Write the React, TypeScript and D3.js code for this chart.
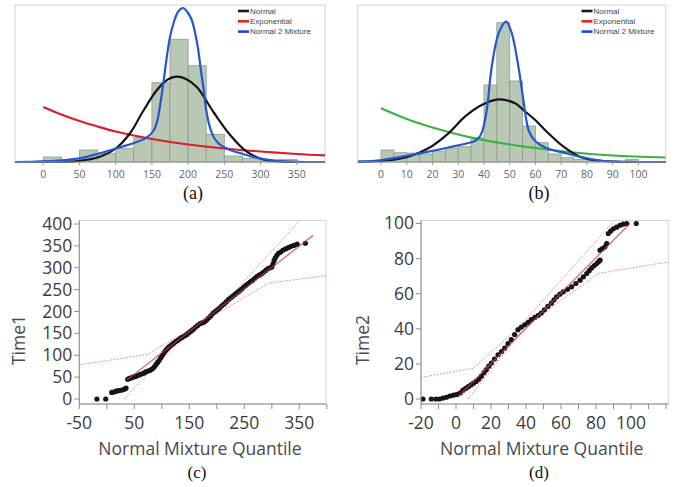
import React from 'react';
import * as d3 from 'd3';

// ---------- Panel (a): Time1 histogram + fitted curves ----------
const binStartA = 0;
const binWidthA = 25;
const countsA = [5, 0, 12, 8.7, 13.7, 24.3, 79.3, 122.7, 96.3, 27.7, 6, 3.7, 2, 2.7];
const ticksA = [0, 50, 100, 150, 200, 250, 300, 350];
const normalA: [number, number][] = [[-39, 0], [0, 0.2], [50, 1.2], [78, 5.3], [101, 14], [120, 29], [138, 51], [157, 72], [172, 82.5], [184, 85.3], [197, 83], [212, 75], [235, 50], [258, 27], [281, 10.3], [304, 2.5], [330, 0.4], [389, 0]];
const expA: [number, number][] = [[0, 55], [25, 47.5], [50, 41], [75, 35.5], [100, 30.5], [125, 26.5], [150, 23], [175, 20], [200, 17.5], [250, 13.5], [300, 10.5], [350, 8], [389, 6.6]];
const mixA: [number, number][] = [[-39, 0], [0, 0.6], [50, 3.7], [78, 8.7], [101, 13.7], [124, 18.7], [143, 24.7], [152, 31], [157, 40], [161, 55], [166, 80], [170, 102], [175, 125], [180, 139], [186, 150], [193, 154], [199, 150], [205, 142], [210, 128], [214, 112], [218, 90], [221, 75], [225, 52], [230, 35], [236, 24], [243, 18], [249, 15], [262, 11], [276, 8], [290, 5], [304, 3], [325, 1], [389, 0]];

// ---------- Panel (b): Time2 histogram + fitted curves ----------
const binStartB = 0;
const binWidthB = 5;
const countsB = [12, 9.3, 9, 8, 11, 13.7, 15.3, 24.3, 77, 139.3, 81, 36, 19.3, 8, 4.3, 2.7, 1.3, 0, 0, 2.7];
const ticksB = [0, 10, 20, 30, 40, 50, 60, 70, 80, 90, 100];
const normalB: [number, number][] = [[-9, 0.2], [0.3, 1], [10.6, 5.3], [18.4, 13.7], [26.2, 28.7], [32.6, 45.3], [39.1, 57], [45.7, 62.7], [52.1, 58.7], [55.3, 52], [59.9, 42], [64.4, 30.3], [70.9, 15.3], [77.3, 5.3], [83.8, 1.5], [90, 0.4], [110.6, 0]];
const expB: [number, number][] = [[0, 53.7], [10, 43], [20, 34.5], [30, 27.5], [38.5, 22.7], [50, 17.5], [60, 14], [75, 9.5], [90, 6.5], [110.6, 4.5]];
const mixB: [number, number][] = [[-9, 0.3], [0.3, 2], [10.6, 6.5], [18.4, 10.3], [26.2, 14.5], [33.9, 19], [36.5, 21], [38.5, 26], [39.5, 32], [41.1, 52], [43, 95], [45.7, 128.7], [48.6, 140.3], [50.8, 128.7], [53.4, 95], [55.3, 62], [56.6, 40], [57.6, 30], [59.9, 21], [64.4, 13.7], [72.2, 8.5], [77.3, 5.3], [83.8, 2], [90.3, 0.5], [110.6, 0]];

const legendLabels = ['Normal', 'Exponential', 'Normal 2 Mixture'];
const legendColors = ['#1a1a1a', '#e8202a', '#2040e8'];

// ---------- Panel (c): Time1 vs Normal Mixture Quantile ----------
const pointsC: [number, number][] = [[-18, 0], [-2, 0], [9, 15], [13, 16], [17, 18], [21, 19], [25, 20], [29, 21], [33, 23], [35, 25],
  [38, 45], [41, 47], [44, 48], [47, 50], [51, 51], [55, 53], [59, 55], [63, 57], [67, 59], [71, 62], [75, 64], [79, 66], [83, 69], [86, 73], [89, 78], [92, 83], [95, 88], [98, 94], [101, 100], [104, 106], [107, 111], [110, 115], [113, 119], [117, 123], [121, 127], [125, 131], [129, 134], [133, 138], [137, 141], [141, 144], [145, 147], [149, 151], [153, 155], [157, 159], [161, 164], [165, 168], [169, 172], [173, 174], [177, 176], [181, 180], [185, 185], [189, 190], [193, 196], [197, 200], [201, 204], [205, 208], [209, 213], [213, 217], [217, 222], [221, 227], [225, 231], [229, 235], [233, 239], [237, 243], [241, 247], [245, 251], [249, 256], [253, 260], [257, 264], [261, 268], [265, 271], [269, 276], [273, 280], [277, 283], [281, 286], [285, 290], [289, 294], [293, 298], [297, 300], [300, 302], [302, 308], [304, 316], [306, 322], [309, 328], [312, 333], [316, 336], [320, 340], [325, 343], [330, 346], [335, 349], [340, 351], [346, 354], [361, 356]];
const refC: [number, number][] = [[37, 44], [375, 374]];
const upperC: [number, number][] = [[-50, 78], [74, 102], [153, 161], [190, 196], [224, 234], [351, 408]];
const lowerC: [number, number][] = [[31, 0], [153, 161], [190, 187], [294, 265], [400, 282]];
const xTicksC = [-50, 0, 50, 100, 150, 200, 250, 300, 350, 400];
const xLabelsC = [-50, 50, 150, 250, 350];
const yTicksC = [0, 50, 100, 150, 200, 250, 300, 350, 400];

// ---------- Panel (d): Time2 vs Normal Mixture Quantile ----------
const pointsD: [number, number][] = [[-18.9, 0], [-14.1, 0], [-11.5, 0], [-9.5, 0], [-7.5, 0.5], [-5.5, 1], [-3.5, 1.7], [-1.5, 2.2], [0.5, 2.6], [2.5, 3.5], [4, 5], [5.5, 6], [7, 7], [8.5, 8], [10, 9], [11.5, 10], [13, 11.3], [14.5, 13], [16, 15], [17.3, 16.7], [18.8, 18.7], [20.2, 20.5], [22, 22.8], [24, 25.2], [26, 27], [27.8, 29], [29.7, 31.5], [31.6, 33.8], [33.5, 36.7], [35.4, 39.5], [37.3, 41], [39.3, 42.3], [41.2, 43.7], [43, 45.2], [45, 46.5], [47, 47.7], [48.7, 49], [50.5, 50.8], [52.5, 52.8], [54.5, 54.6], [56, 56.5], [57.5, 58.2], [59.4, 59.7], [61.3, 61.1], [63.7, 62.5], [66.1, 63.9], [68.5, 65.8], [70.9, 67.7], [72.8, 69.6], [74.7, 71.5], [76.1, 73.1], [77.5, 74.7], [79, 76], [80.4, 77.2], [81.4, 78.2], [82.3, 79.1], [82.3, 84.8], [83.7, 85.7], [85.1, 86.7], [86.1, 88.6], [87, 94.3], [88.4, 95.7], [89.9, 97], [91.8, 97.9], [93.7, 99], [95.5, 99.6], [97.5, 100], [103, 100]];
const refD: [number, number][] = [[1, 1], [99.4, 100]];
const upperD: [number, number][] = [[-20, 12.3], [9.7, 17.5], [35.4, 40.2], [89, 100], [95, 108]];
const lowerD: [number, number][] = [[6.9, 0], [39.3, 41.1], [81.3, 71.5], [121.3, 78.1]];
const xTicksD = [-20, -10, 0, 10, 20, 30, 40, 50, 60, 70, 80, 90, 100, 110, 120];
const xLabelsD = [-20, 0, 20, 40, 60, 80, 100];
const yTicksD = [0, 20, 40, 60, 80, 100];

const SANS = '"Open Sans", "Noto Sans", sans-serif';
const SERIF = '"Liberation Serif", "DejaVu Serif", serif';

type HistProps = {
  id: string;
  xDomain: [number, number];
  xRange: [number, number];
  binStart: number;
  binWidth: number;
  counts: number[];
  ticks: number[];
  normal: [number, number][];
  expo: [number, number][];
  mix: [number, number][];
  expColor: string;
  legendX: number;
  label: string;
  labelX: number;
};

function HistPanel(p: HistProps) {
  const top = 5, base = 162;
  const x = d3.scaleLinear().domain(p.xDomain).range(p.xRange);
  const y = d3.scaleLinear().domain([0, base - top]).range([base, top]);
  const line = d3.line<[number, number]>().x(d => x(d[0])).y(d => y(d[1])).curve(d3.curveCatmullRom.alpha(0.5));
  const [x0, x1] = p.xRange;
  return (
    <g>
      <defs>
        <clipPath id={p.id}>
          <rect x={x0} y={top} width={x1 - x0} height={base - top + 1} />
        </clipPath>
      </defs>
      <rect x={x0} y={top} width={x1 - x0} height={base - top} fill="white" stroke="#d4d4d4" strokeWidth={1} />
      {p.counts.map((c, i) => c > 0 ? (
        <rect key={i} x={x(p.binStart + i * p.binWidth)} y={y(c)}
          width={x(p.binStart + (i + 1) * p.binWidth) - x(p.binStart + i * p.binWidth)} height={base - y(c)}
          fill="#b9c8b5" stroke="#8e9d8c" strokeWidth={0.8} />
      ) : null)}
      <g clipPath={`url(#${p.id})`} fill="none" strokeWidth={2.2}>
        <path d={line(p.expo) || ''} stroke={p.expColor} />
        <path d={line(p.normal) || ''} stroke="#151515" />
        <path d={line(p.mix) || ''} stroke="#2456d0" />
      </g>
      <line x1={x0} x2={x1} y1={base} y2={base} stroke="#9a9a9a" strokeWidth={1} />
      {p.ticks.map(t => (
        <g key={t}>
          <line x1={x(t)} x2={x(t)} y1={base} y2={base + 3} stroke="#9a9a9a" />
          <text x={x(t)} y={178} textAnchor="middle" fontSize={10.5} fill="#666" fontFamily={SANS}>{t}</text>
        </g>
      ))}
      {legendLabels.map((l, i) => (
        <g key={l}>
          <line x1={p.legendX} x2={p.legendX + 11} y1={11 + i * 10.3} y2={11 + i * 10.3} stroke={legendColors[i]} strokeWidth={2.6} />
          <text x={p.legendX + 12} y={11 + i * 10.3 + 2.8} fontSize={8} fill="#444" fontFamily='"Liberation Sans", Arial, sans-serif'>{l}</text>
        </g>
      ))}
      <text x={p.labelX} y={199} textAnchor="middle" fontSize={18} fill="#111" fontFamily={SERIF}>{p.label}</text>
    </g>
  );
}

type QQProps = {
  id: string;
  xDomain: [number, number];
  xRange: [number, number];
  yDomain: [number, number];
  points: [number, number][];
  ref: [number, number][];
  upper: [number, number][];
  lower: [number, number][];
  xTicks: number[];
  xLabels: number[];
  yTicks: number[];
  yTitle: string;
  yTitleX: number;
  label: string;
  labelX: number;
  titleX: number;
};

function QQPanel(p: QQProps) {
  const top = 220.5, bottom = 404;
  const x = d3.scaleLinear().domain(p.xDomain).range(p.xRange);
  const y = d3.scaleLinear().domain(p.yDomain).range([bottom, top]);
  const line = d3.line<[number, number]>().x(d => x(d[0])).y(d => y(d[1]));
  const [x0, x1] = p.xRange;
  return (
    <g>
      <defs>
        <clipPath id={p.id}>
          <rect x={x0} y={top} width={x1 - x0} height={bottom - top} />
        </clipPath>
      </defs>
      <rect x={x0} y={top} width={x1 - x0} height={bottom - top} fill="white" stroke="#d4d4d4" strokeWidth={1} />
      <g clipPath={`url(#${p.id})`} fill="none">
        <path d={line(p.upper) || ''} stroke="#f07c88" strokeWidth={1} strokeDasharray="1.6,1.6" />
        <path d={line(p.lower) || ''} stroke="#f07c88" strokeWidth={1} strokeDasharray="1.6,1.6" />
        {p.points.map((d, i) => (
          <circle key={i} cx={x(d[0])} cy={y(d[1])} r={2.6} fill="#141414" />
        ))}
        <path d={line(p.ref) || ''} stroke="#c0404e" strokeOpacity={0.75} strokeWidth={1.3} />
      </g>
      <line x1={x0} x2={x0} y1={top} y2={bottom} stroke="#8c8c8c" />
      <line x1={x0} x2={x1} y1={bottom} y2={bottom} stroke="#8c8c8c" />
      {p.xTicks.map(t => (
        <line key={t} x1={x(t)} x2={x(t)} y1={bottom} y2={bottom + 5} stroke="#8c8c8c" />
      ))}
      {p.xLabels.map(t => (
        <text key={t} x={x(t)} y={428.5} textAnchor="middle" fontSize={17.5} fill="#3c3c3c" fontFamily={SANS}>{t}</text>
      ))}
      {p.yTicks.map(t => (
        <g key={t}>
          <line x1={x0 - 5} x2={x0} y1={y(t)} y2={y(t)} stroke="#8c8c8c" />
          <text x={x0 - 7} y={y(t) + 6} textAnchor="end" fontSize={17.5} fill="#3c3c3c" fontFamily={SANS}>{t}</text>
        </g>
      ))}
      <text x={p.titleX} y={455} textAnchor="middle" fontSize={17.5} fill="#4a4a4a" fontFamily={SANS}>Normal Mixture Quantile</text>
      <text transform={`translate(${p.yTitleX},340) rotate(-90)`} textAnchor="middle" fontSize={17.5} fill="#4a4a4a" fontFamily={SANS}>{p.yTitle}</text>
      <text x={p.labelX} y={478} textAnchor="middle" fontSize={17} fill="#111" fontFamily={SERIF}>{p.label}</text>
    </g>
  );
}

export default function App() {
  return (
    <svg width={674} height={487} style={{ position: 'absolute', left: 0, top: 0, background: 'white' }}>
      <HistPanel id="clipA" xDomain={[-39, 389]} xRange={[15, 325]} binStart={binStartA} binWidth={binWidthA}
        counts={countsA} ticks={ticksA} normal={normalA} expo={expA} mix={mixA} expColor="#d8202c"
        legendX={238} label="(a)" labelX={193} />
      <HistPanel id="clipB" xDomain={[-9.05, 110.6]} xRange={[357.7, 665.7]} binStart={binStartB} binWidth={binWidthB}
        counts={countsB} ticks={ticksB} normal={normalB} expo={expB} mix={mixB} expColor="#3cb043"
        legendX={581.5} label="(b)" labelX={539} />
      <QQPanel id="clipC" xDomain={[-50, 398.5]} xRange={[79.3, 326]} yDomain={[-11.4, 408]}
        points={pointsC} ref={refC} upper={upperC} lower={lowerC} xTicks={xTicksC} xLabels={xLabelsC}
        yTicks={yTicksC} yTitle="Time1" yTitleX={25} label="(c)" labelX={197} titleX={200} />
      <QQPanel id="clipD" xDomain={[-20, 121.3]} xRange={[421, 668.3]} yDomain={[-2.85, 101.7]}
        points={pointsD} ref={refD} upper={upperD} lower={lowerD} xTicks={xTicksD} xLabels={xLabelsD}
        yTicks={yTicksD} yTitle="Time2" yTitleX={369} label="(d)" labelX={539} titleX={541.7} />
    </svg>
  );
}
